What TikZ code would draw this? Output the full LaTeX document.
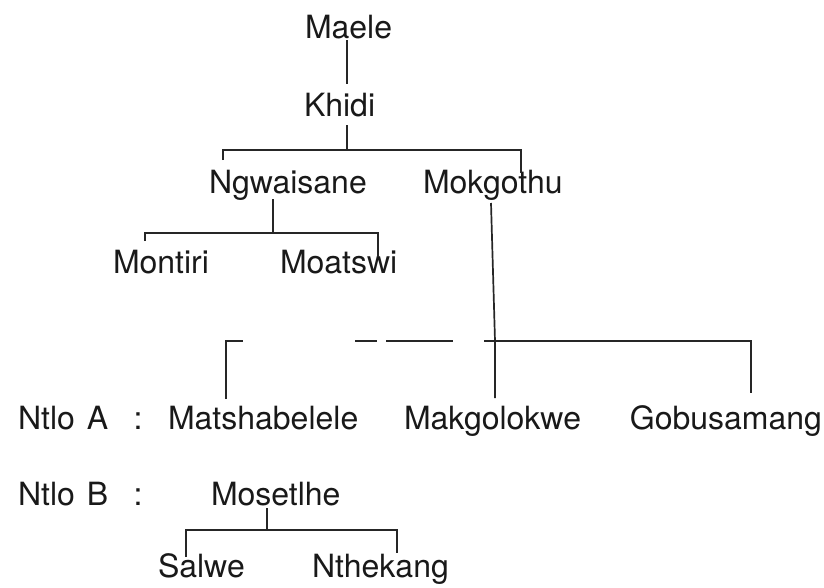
\documentclass[tikz,border=0pt]{standalone}
\usepackage{fontspec}
\setmainfont{TeX Gyre Heros}
\begin{document}
\begin{tikzpicture}[x=1pt,y=-1pt,
  nm/.style={inner sep=0pt,outer sep=0pt,font=\fontsize{32}{36}\selectfont,text=black!90,anchor=base west},
  ln/.style={line width=1.7pt,draw=black!85}]
\useasboundingbox (0,0) rectangle (824,587);
% names
\node[nm] (maele) at (305,38) {Maele};
\node[nm] (khidi) at (304,116) {Khidi};
\node[nm] (ngw) at (209,193) {Ngwaisane};
\node[nm] (mok) at (423,193) {Mokgothu};
\node[nm] (mon) at (113,273) {Montiri};
\node[nm] (moa) at (280,273) {Moatswi};
\node[nm] (ntloa) at (18,429) {Ntlo\hspace{3pt} A};
\node[nm,anchor=base] (cola) at (138,429) {:};
\node[nm] (mat) at (168,429) {Matshabelele};
\node[nm] (mak) at (404,429) {Makgolokwe};
\node[nm,anchor=base east] (gob) at (822,429) {Gobusamang};
\node[nm] (ntlob) at (18,505) {Ntlo\hspace{3pt} B};
\node[nm,anchor=base] (colb) at (138,505) {:};
\node[nm] (mos) at (211,505) {Mosetlhe};
\node[nm] (sal) at (158,577) {Salwe};
\node[nm] (nth) at (312,577) {Nthekang};
% junction coordinates
\coordinate (k1) at (347,150);
\coordinate (n1) at (273,233);
\coordinate (m1) at (495,341);
\coordinate (s1) at (267,530);
% Maele - Khidi
\draw[ln] (347,40) -- (347,84);
% Khidi - children
\draw[ln] (347,125) -- (k1);
\draw[ln] (223,160) -- (223,150) -- (521,150) -- (521,173);
% Ngwaisane - children
\draw[ln] (273,199) -- (n1);
\draw[ln] (145,241) -- (145,233) -- (378,233) -- (378,257);
% Mokgothu - Ntlo A
\draw[ln] (491,203) -- (m1) -- (495,398);
\draw[ln] (226,399) -- (226,341) -- (243,341);
\draw[ln] (355,341) -- (377,341);
\draw[ln] (386,341) -- (453,341);
\draw[ln] (484,341) -- (751,341) -- (751,393);
% Mosetlhe - children
\draw[ln] (267,508) -- (s1);
\draw[ln] (186,557) -- (186,530) -- (397,530) -- (397,553);
\end{tikzpicture}
\end{document}
